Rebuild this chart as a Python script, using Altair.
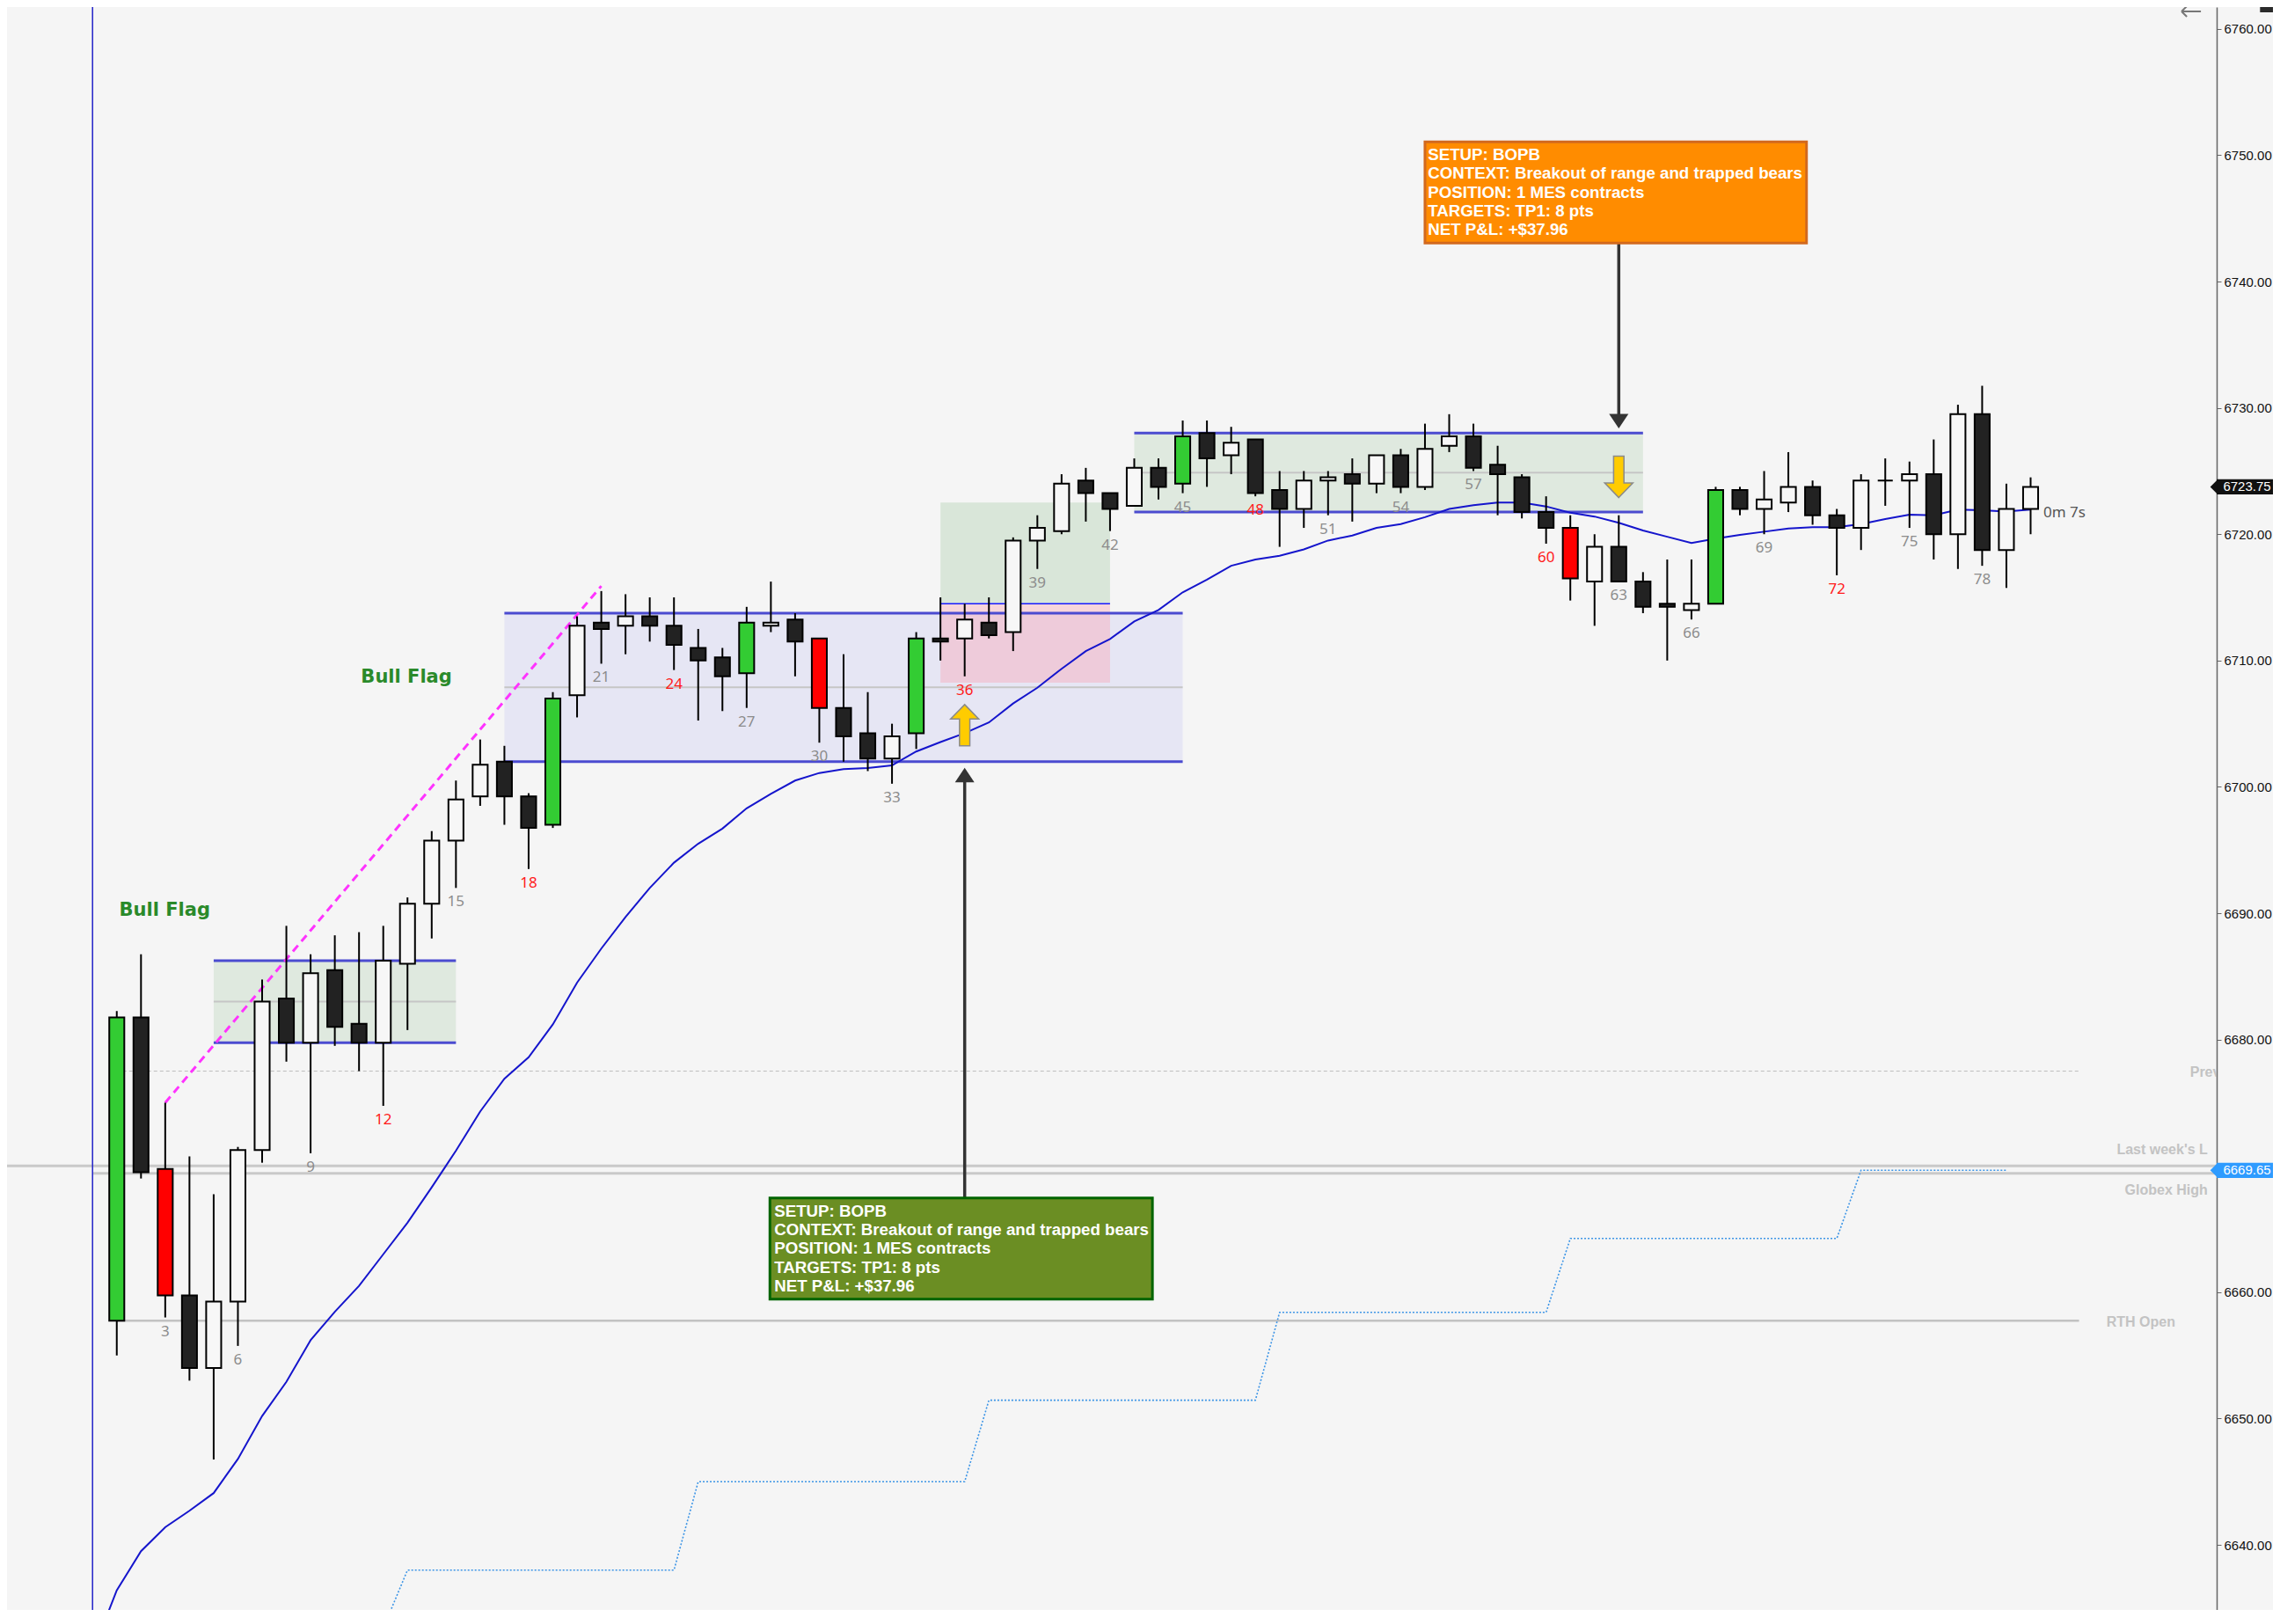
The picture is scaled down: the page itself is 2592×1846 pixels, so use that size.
import altair as alt
import pandas as pd

# ---------------- data ----------------
bars = list(range(1, 81))
opens = [6657.75, 6681.75, 6669.75, 6659.75, 6654.0, 6659.25, 6671.25, 6683.25, 6679.75, 6685.5,
         6681.25, 6679.75, 6686.0, 6690.75, 6695.75, 6699.25, 6702.0, 6699.25, 6697.0, 6707.25,
         6713.0, 6712.75, 6713.5, 6712.75, 6711.0, 6710.25, 6709.0, 6712.75, 6713.25, 6711.75,
         6706.25, 6704.25, 6702.25, 6704.25, 6711.75, 6711.75, 6713.0, 6712.25, 6719.5, 6720.25,
         6724.25, 6723.25, 6722.25, 6725.25, 6724.0, 6728.0, 6726.25, 6727.5, 6723.5, 6722.0,
         6724.25, 6724.75, 6724.0, 6726.25, 6723.75, 6727.0, 6727.75, 6725.5, 6724.5, 6721.75,
         6720.5, 6716.25, 6719.0, 6716.25, 6714.5, 6714.0, 6714.5, 6723.5, 6722.0, 6722.5,
         6723.75, 6721.5, 6720.5, 6724.25, 6724.25, 6724.75, 6720.0, 6729.5, 6718.75, 6722.0]
highs = [6682.25, 6686.75, 6675.0, 6670.75, 6667.75, 6671.5, 6684.75, 6689.0, 6686.75, 6688.25,
         6688.5, 6689.0, 6691.25, 6696.5, 6700.5, 6703.75, 6703.25, 6699.5, 6707.5, 6713.5,
         6715.5, 6715.25, 6715.0, 6715.0, 6712.5, 6711.0, 6714.25, 6716.25, 6713.75, 6711.75,
         6710.5, 6707.5, 6705.0, 6712.25, 6715.0, 6714.5, 6715.0, 6719.75, 6721.5, 6724.75,
         6725.25, 6723.25, 6726.0, 6726.0, 6729.0, 6729.0, 6728.5, 6727.5, 6725.0, 6725.0,
         6725.0, 6726.0, 6726.25, 6726.75, 6728.75, 6729.5, 6728.75, 6727.0, 6724.75, 6723.0,
         6721.5, 6720.0, 6721.5, 6717.0, 6718.0, 6718.0, 6723.75, 6723.75, 6725.0, 6726.5,
         6724.25, 6722.0, 6724.75, 6726.0, 6725.75, 6727.5, 6730.25, 6731.75, 6724.0, 6724.5]
lows = [6655.0, 6669.0, 6658.0, 6653.0, 6646.75, 6655.75, 6670.25, 6678.25, 6671.0, 6679.5,
        6677.5, 6674.75, 6680.75, 6688.0, 6692.0, 6698.5, 6697.0, 6693.5, 6696.75, 6705.5,
        6709.75, 6710.5, 6711.5, 6709.25, 6705.25, 6706.0, 6706.25, 6712.25, 6708.75, 6703.5,
        6702.0, 6701.25, 6700.25, 6703.0, 6710.0, 6708.75, 6711.75, 6710.75, 6717.25, 6720.0,
        6721.0, 6720.25, 6722.25, 6722.75, 6723.25, 6723.75, 6724.75, 6723.0, 6719.0, 6720.5,
        6721.5, 6721.0, 6723.25, 6723.25, 6723.5, 6726.5, 6725.0, 6721.5, 6721.25, 6719.25,
        6714.75, 6712.75, 6716.25, 6713.75, 6710.0, 6713.25, 6714.5, 6721.5, 6720.0, 6721.75,
        6720.75, 6716.75, 6718.75, 6722.25, 6720.5, 6718.0, 6717.25, 6717.5, 6715.75, 6720.0]
closes = [6681.75, 6669.5, 6659.75, 6654.0, 6659.25, 6671.25, 6683.0, 6679.75, 6685.25, 6681.0,
          6679.75, 6686.25, 6690.75, 6695.75, 6699.0, 6701.75, 6699.25, 6696.75, 6707.0, 6712.75,
          6712.5, 6713.5, 6712.75, 6711.25, 6710.0, 6708.75, 6713.0, 6713.0, 6711.5, 6706.25,
          6704.0, 6702.25, 6704.0, 6711.75, 6711.5, 6713.25, 6712.0, 6719.5, 6720.5, 6724.0,
          6723.25, 6722.0, 6725.25, 6723.75, 6727.75, 6726.0, 6727.25, 6723.25, 6722.0, 6724.25,
          6724.5, 6724.0, 6726.25, 6723.75, 6726.75, 6727.75, 6725.25, 6724.75, 6721.75, 6720.5,
          6716.5, 6719.0, 6716.25, 6714.25, 6714.25, 6714.5, 6723.5, 6722.0, 6722.75, 6723.75,
          6721.5, 6720.5, 6724.25, 6724.25, 6724.75, 6720.0, 6729.5, 6718.75, 6722.0, 6723.75]
green_bars = [1, 19, 27, 34, 45, 67]
red_bars = [3, 30, 61]

label_bars = [3, 6, 9, 12, 15, 18, 21, 24, 27, 30, 33, 36, 39, 42, 45, 48, 51, 54, 57, 60,
              63, 66, 69, 72, 75, 78]
red_label_bars = [12, 18, 24, 36, 48, 60, 72]

ema_bars = list(range(0, 81))
ema_values = [6631.5, 6636.4, 6639.5, 6641.4, 6642.7, 6644.1, 6646.8, 6650.2, 6652.9, 6656.2,
              6658.45, 6660.5, 6663.0, 6665.5, 6668.3, 6671.2, 6674.3, 6676.9, 6678.6, 6681.2,
              6684.5, 6687.2, 6689.7, 6692.0, 6694.0, 6695.5, 6696.7, 6698.3, 6699.45, 6700.5,
              6701.1, 6701.4, 6701.5, 6701.7, 6702.8, 6703.55, 6704.25, 6705.1, 6706.6, 6707.85,
              6709.35, 6710.75, 6711.7, 6713.1, 6714.0, 6715.4, 6716.4, 6717.5, 6718.0, 6718.3,
              6718.8, 6719.5, 6719.9, 6720.5, 6720.8, 6721.35, 6722.0, 6722.3, 6722.5, 6722.5,
              6722.2, 6721.7, 6721.4, 6720.9, 6720.3, 6719.8, 6719.3, 6719.65, 6719.95, 6720.2,
              6720.45, 6720.55, 6720.55, 6720.8, 6721.2, 6721.55, 6721.5, 6721.95, 6721.9, 6721.8,
              6721.95]

step_bars = [12, 13, 24, 25, 36, 37, 48, 49, 60, 61, 72, 73, 79]
step_values = [6633.4, 6638.0, 6638.0, 6645.0, 6645.0, 6651.45, 6651.45, 6658.4, 6658.4,
               6664.25, 6664.25, 6669.65, 6669.65]

range_x0 = [5, 17, 43]
range_x1 = [15, 45, 64]
range_lo = [6679.75, 6702.0, 6721.75]
range_hi = [6686.25, 6713.75, 6728.0]
range_mid = [6683.0, 6707.875, 6724.875]
range_kind = ["flag", "range", "flag"]

trade_x0, trade_x1 = 35, 42
trade_entry, trade_target, trade_stop = 6714.5, 6722.5, 6708.25

trend_x = [3, 21]
trend_y = [6675.0, 6715.9]

level_names = ["Prev", "Last week's L", "Globex High", "RTH Open"]
level_prices = [6677.5, 6670.0, 6669.4, 6657.75]
level_start = [1, -10, 0, 1]
level_end = [82, 100, 100, 82]
level_label_x = [86.58, 87.31, 87.31, 83.13]
level_label_y = [6677.37, 6671.25, 6668.08, 6657.64]
level_label_align = ["left", "right", "right", "left"]

session_start_bar = [0]

flag_text = ["Bull Flag", "Bull Flag"]
flag_x = [1.1, 11.08]
flag_y = [6690.2, 6708.66]

note_lines = ["SETUP: BOPB", "CONTEXT: Breakout of range and trapped bears",
              "POSITION: 1 MES contracts", "TARGETS: TP1: 8 pts", "NET P&L: +$37.96"]
box_kind = ["long", "short"]
box_x0 = [27.96, 55.0]
box_x1 = [43.75, 70.75]
box_top = [6667.45, 6751.05]
box_bottom = [6659.45, 6743.05]
box_text_x = [28.14, 55.12]
box_text_y = [6666.41, 6750.03]

conn_x = [36, 63]
conn_from = [6667.45, 6743.05]
conn_to = [6700.6, 6729.3]
head_y = [6700.93, 6728.95]
dirs = ["up", "down"]

signal_x = [36, 63]
signal_y = [6704.88, 6724.54]

timer_text = ["0m 7s"]
timer_x = [80.53]
timer_y = [6721.69]

tag_price = [6723.75, 6669.65]
tag_kind = ["last", "globex"]
tag_text = ["6723.75", "6669.65"]

icon_x = [86.63]
icon_y = [6761.38]
corner_x = [89.47, 91.0]
corner_y = [6761.32, 6763.0]

axis_values = [6640, 6650, 6660, 6680, 6690, 6700, 6710, 6720, 6730, 6740, 6750, 6760]

# ---------------- scales ----------------
X_MIN, X_MAX = -3.53, 87.68
Y_MIN, Y_MAX = 6634.85, 6761.73
xs = alt.Scale(domain=[X_MIN, X_MAX], nice=False, zero=False)
ys = alt.Scale(domain=[Y_MIN, Y_MAX], nice=False, zero=False)

yaxis = alt.Axis(orient="right", values=axis_values, format=".2f", title=None, grid=False,
                 labelFont="Liberation Sans", labelFontSize=15, labelColor="#111111",
                 tickSize=5, tickColor="#666666", domainColor="#666666", domainWidth=1.5,
                 labelPadding=3)


def X(f):
    return alt.X(f, type="quantitative", scale=xs, axis=None)


def Y(f):
    return alt.Y(f, type="quantitative", scale=ys, axis=yaxis)


# ---------------- tables ----------------
kinds = []
for b, o, c in zip(bars, opens, closes):
    if b in green_bars:
        kinds.append("green")
    elif b in red_bars:
        kinds.append("red")
    elif c > o:
        kinds.append("bull")
    else:
        kinds.append("bear")
candles = pd.DataFrame({"bar": bars, "open": opens, "high": highs, "low": lows,
                        "close": closes, "ckind": kinds})

lab = pd.DataFrame({"bar": label_bars,
                    "low": [lows[b - 1] for b in label_bars],
                    "txt": [str(b) for b in label_bars],
                    "lkind": ["red" if b in red_label_bars else "gray" for b in label_bars]})

ema = pd.DataFrame({"bar": ema_bars, "v": ema_values})
steps = pd.DataFrame({"bar": step_bars, "v": step_values})
ranges = pd.DataFrame({"x0": range_x0, "x1": range_x1, "lo": range_lo, "hi": range_hi,
                       "mid": range_mid, "rkind": range_kind})
trade = pd.DataFrame({"x0": [trade_x0, trade_x0], "x1": [trade_x1, trade_x1],
                      "lo": [trade_entry, trade_stop], "hi": [trade_target, trade_entry],
                      "tkind": ["target", "stop"]})
entry_df = pd.DataFrame({"x0": [trade_x0], "x1": [trade_x1], "p": [trade_entry]})
trend = pd.DataFrame({"bar": trend_x, "v": trend_y})
levels = pd.DataFrame({"name": level_names, "p": level_prices, "x0": level_start, "x1": level_end})
level_labels = pd.DataFrame({"name": level_names, "x": level_label_x, "y": level_label_y,
                             "align": level_label_align})
flags = pd.DataFrame({"t": flag_text, "x": flag_x, "y": flag_y})
boxes = pd.DataFrame({"bkind": box_kind, "x0": box_x0, "x1": box_x1, "top": box_top,
                      "bottom": box_bottom, "tx": box_text_x, "ty": box_text_y,
                      "txt": ["\n".join(note_lines)] * 2})
conns = pd.DataFrame({"x": conn_x, "a": conn_from, "b": conn_to, "hy": head_y, "hdir": dirs})
signals = pd.DataFrame({"x": signal_x, "y": signal_y, "sdir": dirs})
timer = pd.DataFrame({"t": timer_text, "x": timer_x, "y": timer_y})
tags = pd.DataFrame({"p": tag_price, "gkind": tag_kind, "t": tag_text})
session = pd.DataFrame({"bar": session_start_bar})
icon_df = pd.DataFrame({"x": icon_x, "y": icon_y})
corner_df = pd.DataFrame({"x0": [corner_x[0]], "x1": [corner_x[1]],
                          "y0": [corner_y[0]], "y1": [corner_y[1]]})

# ---------------- layers ----------------
range_fill = alt.Chart(ranges).mark_rect().encode(
    x=X("x0"), x2="x1", y=Y("lo"), y2="hi",
    fill=alt.Fill("rkind:N", scale=alt.Scale(domain=["flag", "range"],
                                             range=["#dfe9df", "#e6e6f4"]), legend=None))
range_mid_l = alt.Chart(ranges).mark_rule(color="#c6c6c6", strokeWidth=2).encode(
    x=X("x0"), x2="x1", y=Y("mid"))
trade_fill = alt.Chart(trade).mark_rect(opacity=0.33).encode(
    x=X("x0"), x2="x1", y=Y("lo"), y2="hi",
    fill=alt.Fill("tkind:N", scale=alt.Scale(domain=["target", "stop"],
                                             range=["#a1c8a1", "#ff96a6"]), legend=None))
range_lo_l = alt.Chart(ranges).mark_rule(color="#4b4bd0", strokeWidth=3).encode(
    x=X("x0"), x2="x1", y=Y("lo"))
range_hi_l = alt.Chart(ranges).mark_rule(color="#4b4bd0", strokeWidth=3).encode(
    x=X("x0"), x2="x1", y=Y("hi"))
entry_l = alt.Chart(entry_df).mark_rule(color="#1a1aff", strokeWidth=1.5).encode(
    x=X("x0"), x2="x1", y=Y("p"))

prev_l = alt.Chart(levels).transform_filter(alt.datum.name == "Prev").mark_rule(
    color="#bdbdbd", strokeWidth=1, strokeDash=[4, 3], clip=True).encode(
    x=X("x0"), x2="x1", y=Y("p"))
thick_l = alt.Chart(levels).transform_filter(
    (alt.datum.name == "Last week's L") | (alt.datum.name == "Globex High")).mark_rule(
    color="#c9c9c9", strokeWidth=3, clip=True).encode(x=X("x0"), x2="x1", y=Y("p"))
rth_l = alt.Chart(levels).transform_filter(alt.datum.name == "RTH Open").mark_rule(
    color="#c2c2c2", strokeWidth=2.5, clip=True).encode(x=X("x0"), x2="x1", y=Y("p"))

session_l = alt.Chart(session).mark_rule(color="#2323c8", strokeWidth=1.5).encode(x=X("bar"))

step_l = alt.Chart(steps).mark_line(color="#3d95e6", strokeWidth=1.6, strokeDash=[2, 2],
                                    clip=True).encode(x=X("bar"), y=Y("v"))
ema_l = alt.Chart(ema).mark_line(color="#1515cc", strokeWidth=2, clip=True).encode(
    x=X("bar"), y=Y("v"))
trend_l = alt.Chart(trend).mark_line(color="#ff33ff", strokeWidth=3, strokeDash=[9, 6]).encode(
    x=X("bar"), y=Y("v"))

wicks = alt.Chart(candles).mark_rule(color="#000000", strokeWidth=2).encode(
    x=X("bar"), y=Y("low"), y2="high")
bodies = alt.Chart(candles).transform_calculate(
    x0="datum.bar - 0.31", x1="datum.bar + 0.31").mark_rect(
    stroke="#000000", strokeWidth=2).encode(
    x=X("x0"), x2="x1", y=Y("open"), y2="close",
    fill=alt.Fill("ckind:N", scale=alt.Scale(domain=["green", "red", "bull", "bear"],
                                             range=["#33cc33", "#ff0000", "#f7f7f7", "#222222"]),
                  legend=None))

bar_labels = alt.Chart(lab).mark_text(dy=16, baseline="middle", font="Noto Sans",
                                      fontSize=17).encode(
    x=X("bar"), y=Y("low"), text="txt:N",
    color=alt.Color("lkind:N", scale=alt.Scale(domain=["red", "gray"],
                                               range=["#ff1a1a", "#8c8c8c"]), legend=None))

up_arrow = "M0,-1 L0.68,-0.3 L0.25,-0.3 L0.25,1 L-0.25,1 L-0.25,-0.3 L-0.68,-0.3 Z"
down_arrow = "M0,1 L0.68,0.3 L0.25,0.3 L0.25,-1 L-0.25,-1 L-0.25,0.3 L-0.68,0.3 Z"
head_up = "M0,-0.75 L1,0.75 L-1,0.75 Z"
head_down = "M0,0.75 L1,-0.75 L-1,-0.75 Z"
back_arrow = "M-1,0 L1,0 M-1,0 L-0.45,-0.55 M-1,0 L-0.45,0.55"
tag_tip_shape = "M-1,0 L1,-2 L1,2 Z"

signal_pts = alt.Chart(signals).mark_point(filled=True, size=2209, opacity=1, fill="#ffcc00",
                                           stroke="#8a8a8a", strokeWidth=1.5).encode(
    x=X("x"), y=Y("y"),
    shape=alt.Shape("sdir:N", scale=alt.Scale(domain=["up", "down"],
                                              range=[up_arrow, down_arrow]), legend=None))

conn_l = alt.Chart(conns).mark_rule(color="#333333", strokeWidth=3.5).encode(
    x=X("x"), y=Y("a"), y2="b")
heads = alt.Chart(conns).mark_point(filled=True, size=484, opacity=1, fill="#333333",
                                    strokeWidth=0).encode(
    x=X("x"), y=Y("hy"),
    shape=alt.Shape("hdir:N", scale=alt.Scale(domain=["up", "down"],
                                              range=[head_up, head_down]), legend=None))

box_rect = alt.Chart(boxes).mark_rect(strokeWidth=3).encode(
    x=X("x0"), x2="x1", y=Y("bottom"), y2="top",
    fill=alt.Fill("bkind:N", scale=alt.Scale(domain=["long", "short"],
                                             range=["#6b8e23", "#ff8c00"]), legend=None),
    stroke=alt.Stroke("bkind:N", scale=alt.Scale(domain=["long", "short"],
                                                 range=["#006400", "#d2691e"]), legend=None))
box_text = alt.Chart(boxes).mark_text(align="left", baseline="middle", lineBreak="\n",
                                      lineHeight=21.3, font="Liberation Sans", fontSize=18.7,
                                      fontWeight="bold", color="#ffffff").encode(
    x=X("tx"), y=Y("ty"), text="txt:N")

flag_labels = alt.Chart(flags).mark_text(align="left", baseline="middle", font="DejaVu Sans",
                                         fontSize=21, fontWeight="bold",
                                         color="#2a8a2a").encode(
    x=X("x"), y=Y("y"), text="t:N")

lvl_left = alt.Chart(level_labels).transform_filter(alt.datum.align == "left").mark_text(
    align="left", baseline="middle", font="Liberation Sans", fontSize=16, fontWeight="bold",
    color="#c3c3c3", clip=True).encode(x=X("x"), y=Y("y"), text="name:N")
lvl_right = alt.Chart(level_labels).transform_filter(alt.datum.align == "right").mark_text(
    align="right", baseline="middle", font="Liberation Sans", fontSize=16, fontWeight="bold",
    color="#c3c3c3", clip=True).encode(x=X("x"), y=Y("y"), text="name:N")

timer_l = alt.Chart(timer).mark_text(align="left", baseline="middle", font="Noto Sans",
                                     fontSize=17, color="#555555").encode(
    x=X("x"), y=Y("y"), text="t:N")

tag_rect = alt.Chart(tags).transform_calculate(
    x0="87.68", x1="90.6", lo="datum.p - 0.6", hi="datum.p + 0.6").mark_rect().encode(
    x=X("x0"), x2="x1", y=Y("lo"), y2="hi",
    fill=alt.Fill("gkind:N", scale=alt.Scale(domain=["last", "globex"],
                                             range=["#111111", "#2e9bff"]), legend=None))
tag_tip = alt.Chart(tags).transform_calculate(x="87.56").mark_point(
    filled=True, size=64, opacity=1, strokeWidth=0, shape=tag_tip_shape).encode(
    x=X("x"), y=Y("p"),
    color=alt.Color("gkind:N", scale=alt.Scale(domain=["last", "globex"],
                                               range=["#111111", "#2e9bff"]), legend=None))
tag_txt = alt.Chart(tags).transform_calculate(x="87.95").mark_text(
    align="left", baseline="middle", font="Liberation Sans", fontSize=15,
    color="#ffffff").encode(x=X("x"), y=Y("p"), text="t:N")

icon = alt.Chart(icon_df).mark_point(filled=False, size=484, opacity=1, shape=back_arrow,
                                     stroke="#777777", strokeWidth=2).encode(
    x=X("x"), y=Y("y"))
corner = alt.Chart(corner_df).mark_rect(color="#2b2b2b").encode(
    x=X("x0"), x2="x1", y=Y("y0"), y2="y1")

chart = alt.layer(
    range_fill, range_mid_l, trade_fill, range_lo_l, range_hi_l, entry_l,
    prev_l, thick_l, rth_l, session_l, step_l, ema_l, trend_l,
    wicks, bodies, bar_labels, signal_pts, conn_l, heads,
    box_rect, box_text, flag_labels, lvl_left, lvl_right, timer_l,
    tag_rect, tag_tip, tag_txt, icon, corner
).resolve_scale(
    fill="independent", color="independent", stroke="independent", shape="independent"
).properties(
    width=2512, height=1822,
    autosize=alt.AutoSizeParams(type="none"),
    padding={"left": 0, "top": 0, "right": 64, "bottom": 0},
    background="#f5f5f5"
).configure_view(stroke=None)

chart.save("out.html", embed_options={"renderer": "svg", "actions": False})
